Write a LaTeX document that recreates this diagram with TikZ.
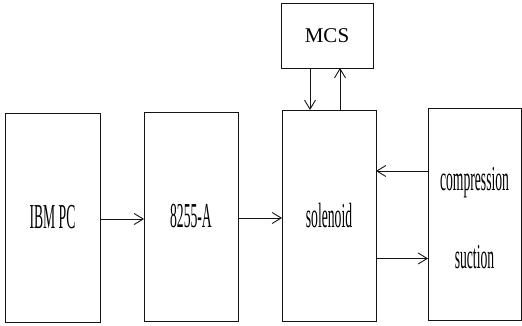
\documentclass[tikz,border=0pt]{standalone}
\usepackage{fontspec}
\setmainfont{Liberation Serif}
\usetikzlibrary{arrows.meta}
\definecolor{figline}{RGB}{20,20,20}
\newcommand{\cond}[1]{\scalebox{0.39}[1]{#1}}
\tikzset{
  blk/.style ={draw=figline, line width=0.9pt, inner sep=0pt, outer sep=0pt,
               font=\fontsize{35}{37}\selectfont},
  lbl/.style ={inner sep=1pt, font=\fontsize{35}{37}\selectfont},
  arr/.style ={draw=figline, line width=0.9pt, -{Straight Barb[length=9pt,width=11pt]}},
}
\begin{document}
\begin{tikzpicture}[x=1pt,y=1pt]
  \useasboundingbox (0,0) rectangle (522,325);
  % blocks
  \node[blk,minimum width=95pt,minimum height=209pt] (pc)  at (52.5,107.5) {\cond{IBM PC}};
  \node[blk,minimum width=94pt,minimum height=209pt] (ppi) at (191,108.5) {\cond{8255-A}};
  \node[blk,minimum width=94pt,minimum height=211pt] (sol) at (329,109.5) {\cond{solenoid}};
  \node[blk,minimum width=93pt,minimum height=212pt] (cmp) at (474.5,111) {};
  \node[blk,minimum width=92pt,minimum height=65pt,font=\fontsize{21}{23}\selectfont] (mcs) at (327,289.5) {MCS};
  \node[lbl] (cmptxt) at ([yshift=31pt]cmp.center) {\cond{compression}};
  \node[lbl] (suctxt) at ([yshift=-43pt]cmp.center) {\cond{suction}};
  % connectors
  \draw[arr] ([yshift=-1.5pt]pc.east) -- ([yshift=-1.5pt]pc.east -| ppi.west);
  \draw[arr] ([yshift=-1.5pt]ppi.east) -- ([yshift=-1.5pt]ppi.east -| sol.west);
  \draw[arr] ([yshift=43pt]cmp.west) -- ([yshift=43pt]cmp.west -| sol.east);
  \draw[arr] ([yshift=-43pt]sol.east) -- ([yshift=-43pt]sol.east -| cmp.west);
  \draw[arr] ([xshift=-17pt]mcs.south) -- ([xshift=-17pt]mcs.south |- sol.north);
  \draw[arr] ([xshift=13pt]mcs.south |- sol.north) -- ([xshift=13pt]mcs.south);
\end{tikzpicture}
\end{document}
